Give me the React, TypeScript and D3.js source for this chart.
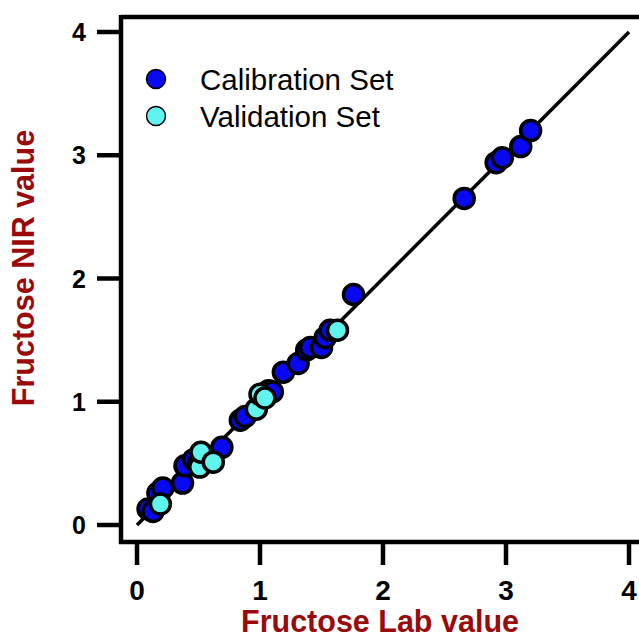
import { useEffect, useRef } from 'react';
import * as d3 from 'd3';

// Calibration set: lab value vs NIR value
const calibLab = [0.09, 0.13, 0.17, 0.21, 0.37, 0.39, 0.46, 0.5, 0.69, 0.84, 0.88, 1.07, 1.1, 1.19, 1.31, 1.38, 1.41, 1.5, 1.53, 1.57, 1.76, 2.66, 2.92, 2.97, 3.12, 3.2];
const calibNir = [0.13, 0.11, 0.26, 0.3, 0.34, 0.48, 0.53, 0.5, 0.63, 0.85, 0.88, 1.09, 1.08, 1.24, 1.31, 1.42, 1.44, 1.44, 1.52, 1.58, 1.87, 2.65, 2.94, 2.98, 3.07, 3.2];

// Validation set
const validLab = [0.19, 0.51, 0.52, 0.62, 0.97, 1.0, 1.04, 1.63];
const validNir = [0.17, 0.47, 0.59, 0.51, 0.94, 1.06, 1.03, 1.58];

const tickValues = [0, 1, 2, 3, 4];
const legendLabels = ['Calibration Set', 'Validation Set'];

const BLUE = '#0808f2';
const CYAN = '#5ff5ee';
const RED = '#9b0a0a';
const FONT = 'Arial, "Liberation Sans", sans-serif';

export default function App() {
  const svgRef = useRef<SVGSVGElement>(null);

  useEffect(() => {
    if (!svgRef.current) return;
    const svg = d3.select(svgRef.current);
    svg.selectAll('*').remove();

    const x = d3.scaleLinear().domain([0, 4]).range([137, 629]);
    const y = d3.scaleLinear().domain([0, 4]).range([525, 32]);

    const left = 121;
    const bottom = 542;
    const top = 17;

    // frame
    svg.append('line').attr('x1', left).attr('x2', 700).attr('y1', top).attr('y2', top)
      .attr('stroke', '#000').attr('stroke-width', 4.5);
    svg.append('line').attr('x1', left).attr('x2', left).attr('y1', top - 2).attr('y2', bottom + 2)
      .attr('stroke', '#000').attr('stroke-width', 4.5);
    svg.append('line').attr('x1', left - 2).attr('x2', 700).attr('y1', bottom).attr('y2', bottom)
      .attr('stroke', '#000').attr('stroke-width', 4.5);

    // x ticks
    svg.selectAll('.xt').data(tickValues).enter().append('line')
      .attr('x1', (d) => x(d)).attr('x2', (d) => x(d))
      .attr('y1', bottom).attr('y2', bottom + 23)
      .attr('stroke', '#000').attr('stroke-width', 4.5);
    svg.selectAll('.xl').data(tickValues).enter().append('text')
      .attr('x', (d) => x(d)).attr('y', 600)
      .attr('text-anchor', 'middle')
      .attr('font-family', FONT).attr('font-weight', 'bold').attr('font-size', 28)
      .text((d) => d);

    // y ticks
    svg.selectAll('.yt').data(tickValues).enter().append('line')
      .attr('x1', left - 24).attr('x2', left)
      .attr('y1', (d) => y(d)).attr('y2', (d) => y(d))
      .attr('stroke', '#000').attr('stroke-width', 4.5);
    svg.selectAll('.yl').data(tickValues).enter().append('text')
      .attr('x', 86).attr('y', (d) => y(d)).attr('dy', '0.36em')
      .attr('text-anchor', 'end')
      .attr('font-family', FONT).attr('font-weight', 'bold').attr('font-size', 25)
      .text((d) => d);

    // axis titles
    svg.append('text')
      .attr('x', 380).attr('y', 632)
      .attr('text-anchor', 'middle')
      .attr('font-family', FONT).attr('font-weight', 'bold').attr('font-size', 30.5)
      .attr('fill', RED)
      .text('Fructose Lab value');
    svg.append('text')
      .attr('transform', 'translate(34,268) rotate(-90)')
      .attr('text-anchor', 'middle')
      .attr('font-family', FONT).attr('font-weight', 'bold').attr('font-size', 30.5)
      .attr('fill', RED)
      .text('Fructose NIR value');

    // 1:1 line
    svg.append('line')
      .attr('x1', x(0)).attr('y1', y(0)).attr('x2', x(4)).attr('y2', y(4))
      .attr('stroke', '#000').attr('stroke-width', 3.5);

    const calib = calibLab.map((v, i) => [v, calibNir[i]]);
    const valid = validLab.map((v, i) => [v, validNir[i]]);

    const drawSet = (data: number[][], color: string) => {
      svg.append('g').selectAll('circle').data(data).enter().append('circle')
        .attr('cx', (d) => x(d[0])).attr('cy', (d) => y(d[1]))
        .attr('r', 10)
        .attr('fill', color).attr('stroke', '#000').attr('stroke-width', 3.5);
    };
    drawSet(calib, BLUE);
    drawSet(valid, CYAN);

    // legend
    const legend = svg.append('g');
    legendLabels.forEach((label, i) => {
      const cy = 79 + i * 37;
      legend.append('circle').attr('cx', 156).attr('cy', cy).attr('r', 9.5)
        .attr('fill', i === 0 ? BLUE : CYAN).attr('stroke', '#000').attr('stroke-width', 1.5);
      legend.append('text').attr('x', 200).attr('y', cy).attr('dy', '0.36em')
        .attr('font-family', FONT).attr('font-size', 29.5)
        .text(label);
    });
  }, []);

  return (
    <svg
      ref={svgRef}
      width={639}
      height={637}
      style={{ position: 'absolute', left: 0, top: 0, background: '#fff' }}
    />
  );
}
